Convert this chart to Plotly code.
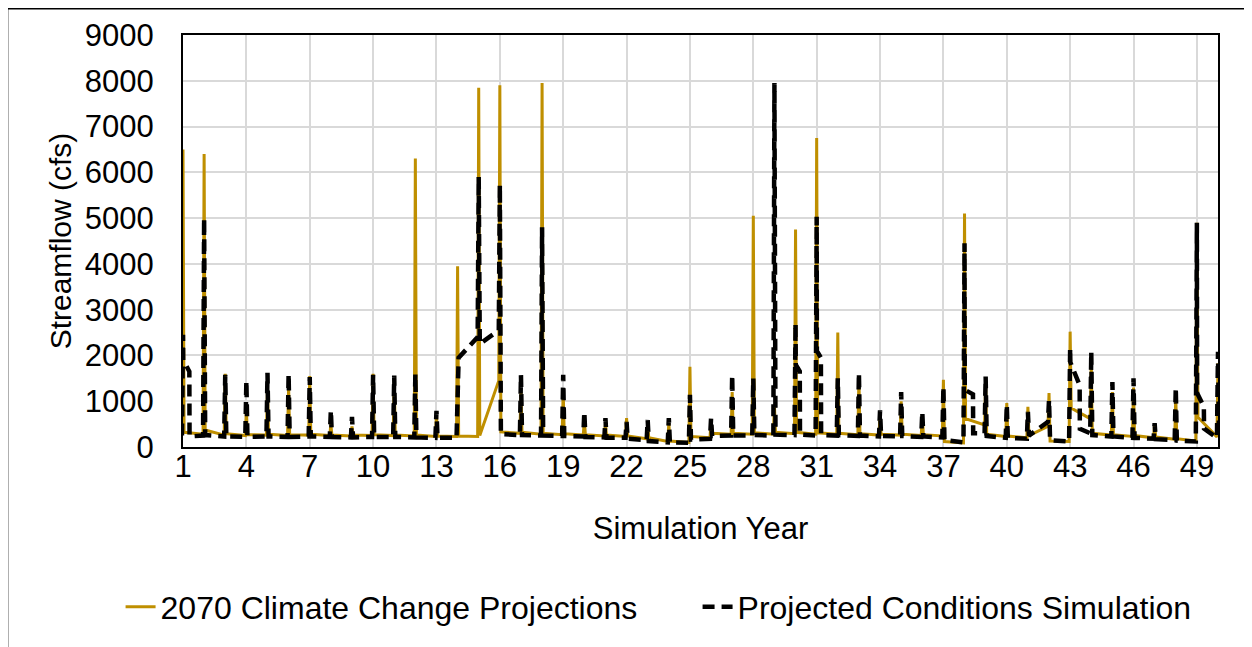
import plotly.graph_objects as go

# simulation years (one spike per year)
years = list(range(1, 51))

# 2070 Climate Change Projections (cfs)
gold_peak = [6500, 6400, 1600, 800, 1300, 1300, 1550, 500, 450, 1600,
             1500, 6300, 700, 3950, 7850, 7900, 1200, 7950, 1200, 600,
             500, 630, 500, 520, 1750, 600, 1200, 5050, 900, 4750,
             6750, 2500, 1500, 700, 1000, 700, 1470, 5100, 1400, 960,
             880, 1180, 2520, 1800, 1200, 1300, 500, 1100, 4900, 1830]
gold_pre = [330, 280, 260, 250, 260, 250, 260, 250, 240, 250,
            250, 240, 230, 230, 230, 1450, 300, 280, 270, 260,
            240, 230, 180, 120, 100, 200, 280, 280, 280, 290,
            280, 280, 270, 260, 260, 250, 240, 90, 480, 230,
            200, 450, 120, 620, 260, 230, 200, 170, 130, 220]
gold_after = [320, 370, 290, 270, 280, 270, 280, 260, 260, 270,
              260, 260, 240, 240, 250, 330, 320, 300, 290, 270,
              260, 240, 200, 130, 230, 300, 300, 310, 320, 320,
              310, 300, 290, 280, 280, 270, 120, 620, 280, 240,
              250, 130, 850, 300, 270, 250, 220, 180, 650, 220]

# Projected Conditions Simulation (cfs)
black_peak = [2450, 5000, 1575, 1450, 1620, 1600, 1530, 800, 660, 1580,
              1560, 1600, 790, 1950, 5900, 5730, 1575, 4800, 1575, 770,
              630, 550, 590, 630, 1140, 630, 1575, 1500, 7950, 2700,
              5030, 1500, 1620, 800, 1200, 770, 1320, 4450, 1540, 920,
              770, 1030, 2160, 2080, 1420, 1500, 520, 1300, 4900, 2080]
black_pre = [250, 250, 230, 220, 230, 220, 230, 220, 210, 220,
             220, 210, 200, 200, 2400, 2550, 260, 250, 240, 230,
             210, 200, 150, 100, 90, 180, 250, 250, 250, 260,
             250, 250, 240, 230, 230, 220, 210, 100, 300, 200,
             180, 550, 120, 300, 230, 200, 180, 150, 120, 200]
black_after = [230, 260, 230, 220, 230, 220, 230, 220, 210, 220,
               220, 210, 200, 1950, 2250, 280, 260, 250, 240, 220,
               200, 180, 130, 100, 160, 240, 250, 260, 270, 270,
               260, 260, 250, 240, 240, 230, 150, 300, 240, 200,
               250, 150, 400, 260, 230, 200, 170, 140, 400, 200]

# short recession shoulders on some black spikes
sh_years = [1, 30, 31, 38, 43, 49]
sh_start = [1900, 1800, 2100, 1250, 1850, 1180]
sh_end = [1650, 1650, 1950, 1150, 1350, 880]
sh_len = [0.3, 0.2, 0.2, 0.4, 0.45, 0.33]

x_ticks = list(range(1, 50, 3))

GOLD = '#BF8F00'
FONT = 'Liberation Sans, Arial, sans-serif'


def build_series(peak, pre, after, shoulders=None):
    xs, ys = [], []
    for i, yr in enumerate(years):
        xs += [yr - 0.05, yr]
        ys += [pre[i], peak[i]]
        if shoulders and yr in shoulders:
            s0, s1, ln = shoulders[yr]
            xs += [yr + 0.01, yr + ln, yr + ln + 0.01]
            ys += [s0, s1, after[i]]
        else:
            xs.append(yr + 0.05)
            ys.append(after[i])
    return xs, ys


shoulders = {y: (a, b, l) for y, a, b, l in zip(sh_years, sh_start, sh_end, sh_len)}

gx, gy = build_series(gold_peak, gold_pre, gold_after)
bx, by = build_series(black_peak, black_pre, black_after, shoulders)

fig = go.Figure()
fig.add_trace(go.Scatter(x=gx, y=gy, mode='lines', name='2070 Climate Change Projections',
                         line=dict(color=GOLD, width=3)))
fig.add_trace(go.Scatter(x=bx, y=by, mode='lines', name='Projected Conditions Simulation',
                         line=dict(color='black', width=4.5, dash='12px,7px')))

# pixel (window) -> paper helpers; plot area spans x 183..1211, y 35..447
px_x = lambda p: (p - 183) / 1028
px_y = lambda p: (447 - p) / 412

# page body has an 8px margin, so the figure is 8px smaller than the window
fig.update_layout(
    width=1244, height=639,
    margin=dict(l=175, r=34, t=27, b=200, autoexpand=False),
    paper_bgcolor='white', plot_bgcolor='white',
    font=dict(family=FONT, size=31, color='black'),
    showlegend=True,
    legend=dict(orientation='h', x=px_x(121), xanchor='left', y=px_y(607), yanchor='middle',
                font=dict(size=32), tracegroupgap=0, entrywidth=532, entrywidthmode='pixels'),
    xaxis=dict(
        range=[1, 50], tickvals=x_ticks, ticktext=[str(t) for t in x_ticks],
        showgrid=True, gridcolor='#D9D9D9', gridwidth=2,
        showline=True, linecolor='black', linewidth=2, mirror=True,
        zeroline=False, ticks='', layer='below traces', ticklabelstandoff=-9,
        title=dict(text='Simulation Year', font=dict(size=31), standoff=34),
    ),
    yaxis=dict(
        range=[0, 9000], dtick=1000, tick0=0,
        showgrid=True, gridcolor='#D9D9D9', gridwidth=2,
        showline=True, linecolor='black', linewidth=2, mirror=True,
        zeroline=False, ticks='', layer='below traces', ticklabelstandoff=21,
        title=dict(text='Streamflow (cfs)', font=dict(size=30), standoff=4),
    ),
)

# outer chart border (left and top edges visible)
fig.add_shape(type='line', xref='paper', yref='paper',
              x0=px_x(8.75), x1=px_x(8.75), y0=px_y(8.75), y1=px_y(660),
              line=dict(color='black', width=1.5))
fig.add_shape(type='line', xref='paper', yref='paper',
              x0=px_x(8.75), x1=px_x(1260), y0=px_y(8.75), y1=px_y(8.75),
              line=dict(color='black', width=1.5))

fig.write_html('out.html')
